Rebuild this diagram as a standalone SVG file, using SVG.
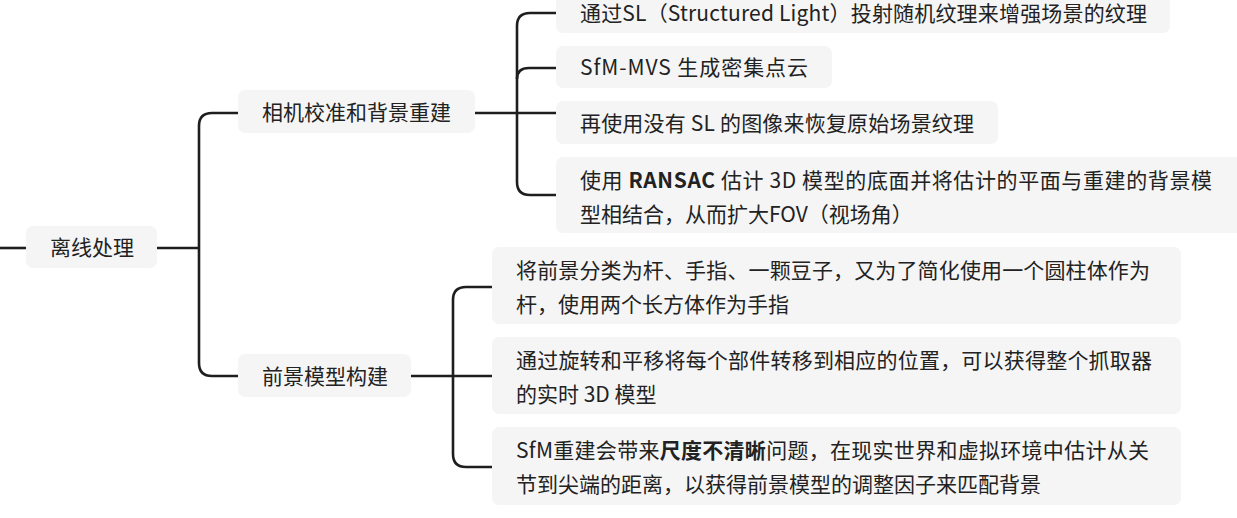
<svg xmlns="http://www.w3.org/2000/svg" width="1237" height="518" viewBox="0 0 1237 518">
<style>
.box{fill:#f5f5f5;}
.t{font-family:"Noto Sans CJK SC","Noto Sans",sans-serif;font-size:21px;fill:#222;}
.b{font-weight:bold;}
.ln{fill:none;stroke:#1e1e1e;stroke-width:2.6;stroke-linecap:butt;}
</style>
<rect width="1237" height="518" fill="#ffffff"/>
<g id="connectors">
<path class="ln" d="M0 248 H26"/>
<path class="ln" d="M157 248 H199"/>
<path class="ln" d="M238 113 H212 Q199 113 199 126 V363 Q199 376 212 376 H238"/>
<path class="ln" d="M475 113 H556"/>
<path class="ln" d="M556 13 H530 Q517 13 517 26 V182 Q517 195 530 195 H556"/>
<path class="ln" d="M517 79 Q517 68 529 68 H556"/>
<path class="ln" d="M411 376 H492"/>
<path class="ln" d="M492 287 H466 Q453 287 453 300 V454 Q453 467 466 467 H492"/>
</g>
<g id="root">
<rect class="box" x="26" y="226" width="131" height="42" rx="7"/>
<text class="t" x="50" y="255">离线处理</text>
</g>
<g id="n-bg">
<rect class="box" x="238" y="90" width="237" height="43" rx="7"/>
<text class="t" x="262" y="120">相机校准和背景重建</text>
</g>
<g id="n-fg">
<rect class="box" x="238" y="354" width="173" height="43" rx="7"/>
<text class="t" x="262" y="384">前景模型构建</text>
</g>
<g id="l1">
<rect class="box" x="556" y="-10" width="614" height="43" rx="7"/>
<text class="t" x="580" y="21" textLength="567" lengthAdjust="spacing">通过SL（Structured Light）投射随机纹理来增强场景的纹理</text>
</g>
<g id="l2">
<rect class="box" x="556" y="46" width="276" height="42" rx="7"/>
<text class="t" x="580" y="75" textLength="228" lengthAdjust="spacing">SfM-MVS 生成密集点云</text>
</g>
<g id="l3">
<rect class="box" x="556" y="101" width="442" height="43" rx="7"/>
<text class="t" x="580" y="131" textLength="394" lengthAdjust="spacing">再使用没有 SL 的图像来恢复原始场景纹理</text>
</g>
<g id="l4">
<rect class="box" x="556" y="157" width="700" height="76" rx="7"/>
<text class="t" x="580" y="188" textLength="632" lengthAdjust="spacing">使用 <tspan class="b">RANSAC</tspan> 估计 3D 模型的底面并将估计的平面与重建的背景模</text>
<text class="t" x="580" y="222">型相结合，从而扩大FOV（视场角）</text>
</g>
<g id="b1">
<rect class="box" x="492" y="247" width="689" height="77" rx="7"/>
<text class="t" x="516" y="278" textLength="634" lengthAdjust="spacing">将前景分类为杆、手指、一颗豆子，又为了简化使用一个圆柱体作为</text>
<text class="t" x="516" y="312">杆，使用两个长方体作为手指</text>
</g>
<g id="b2">
<rect class="box" x="492" y="337" width="689" height="77" rx="7"/>
<text class="t" x="516" y="368" textLength="636" lengthAdjust="spacing">通过旋转和平移将每个部件转移到相应的位置，可以获得整个抓取器</text>
<text class="t" x="516" y="402">的实时 3D 模型</text>
</g>
<g id="b3">
<rect class="box" x="492" y="427" width="689" height="78" rx="7"/>
<text class="t" x="516" y="458" textLength="633" lengthAdjust="spacing">SfM重建会带来<tspan class="b">尺度不清晰</tspan>问题，在现实世界和虚拟环境中估计从关</text>
<text class="t" x="516" y="492">节到尖端的距离，以获得前景模型的调整因子来匹配背景</text>
</g>
</svg>
